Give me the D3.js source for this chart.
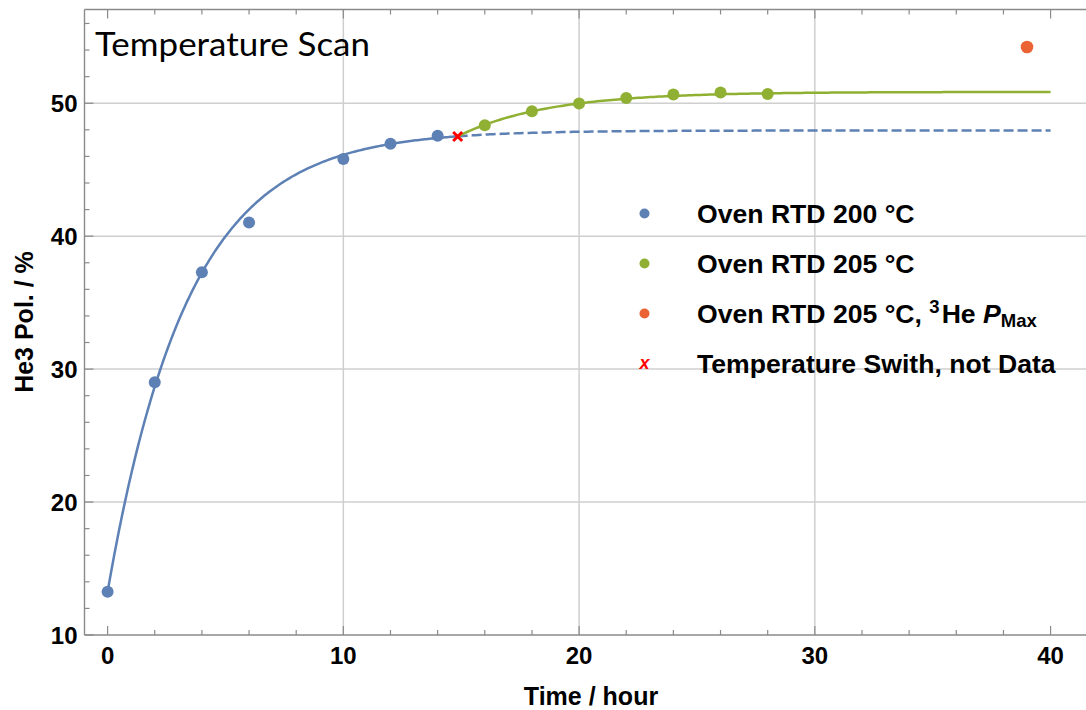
<!DOCTYPE html>
<html>
<head>
<meta charset="utf-8">
<script src="https://cdn.jsdelivr.net/npm/d3@7"></script>
<style>
  html, body { margin: 0; padding: 0; background: #fff; }
  svg { display: block; }
  .tick-label { font-family: "Liberation Sans", Arial, sans-serif; font-weight: bold; font-size: 24px; fill: #000; }
  .axis-title { font-family: "Liberation Sans", Arial, sans-serif; font-weight: bold; font-size: 25px; fill: #000; }
  .legend-text { font-family: "Liberation Sans", Arial, sans-serif; font-weight: bold; font-size: 26.6px; fill: #000; }
</style>
</head>
<body>
<svg id="chart" width="1086" height="710"></svg>
<script>
// Measured polarisation at 200 °C oven setpoint
const blueTime = [0, 2, 4, 6, 10, 12, 14];
const bluePol  = [13.26, 29.02, 37.29, 41.03, 45.81, 46.96, 47.56];

// Measured polarisation after switching to 205 °C
const greenTime = [16, 18, 20, 22, 24, 26, 28];
const greenPol  = [48.35, 49.40, 49.98, 50.40, 50.65, 50.80, 50.70];

// 3He maximum polarisation at 205 °C
const pmaxTime = [39];
const pmaxPol  = [54.23];

// Moment of the temperature switch (not a measurement)
const switchTime = [14.85];
const switchPol  = [47.5];

// Exponential build-up fits: P(t) = Pinf - (Pinf - P0) * exp(-(t - t0) / tau)
const fit200 = { t0: 0, P0: 13.26, Pinf: 47.95, tau: 3.4 };
const fit205 = { t0: 14.85, P0: 47.5, Pinf: 50.85, tau: 3.8 };

// Axis ticks
const xMajorTicks = [0, 10, 20, 30, 40];
const yMajorTicks = [10, 20, 30, 40, 50];
const xGridTicks = [10, 20, 30];
const yGridTicks = [20, 30, 40, 50];

const legendLabels = ["Oven RTD 200 °C", "Oven RTD 205 °C", "Oven RTD 205 °C, ", "Temperature Swith, not Data"];

const colBlue = "#5E81B5", colGreen = "#8FB032", colOrange = "#EB6235", colRed = "#FF0000";

const svg = d3.select("#chart");
const plotLeft = 84.5, plotTop = 9.5, plotBottom = 635, plotRight = 1088.3;

const x = d3.scaleLinear().domain([-0.98, 41.6]).range([plotLeft, plotRight]);
const y = d3.scaleLinear().domain([10, 57.05]).range([plotBottom, plotTop]);

// Grid lines
const grid = svg.append("g").attr("stroke", "#cfcfcf").attr("stroke-width", 1.5);
grid.selectAll("line.gx").data(xGridTicks).join("line")
  .attr("x1", d => x(d)).attr("x2", d => x(d)).attr("y1", plotTop).attr("y2", plotBottom);
grid.selectAll("line.gy").data(yGridTicks).join("line")
  .attr("x1", plotLeft).attr("x2", plotRight).attr("y1", d => y(d)).attr("y2", d => y(d));

// Frame
const frameColor = "#8a8a8a";
svg.append("line").attr("x1", plotLeft).attr("x2", plotRight).attr("y1", plotBottom).attr("y2", plotBottom)
  .attr("stroke", frameColor).attr("stroke-width", 1.4);
svg.append("line").attr("x1", plotLeft).attr("x2", plotRight).attr("y1", plotTop).attr("y2", plotTop)
  .attr("stroke", frameColor).attr("stroke-width", 1.4);
svg.append("line").attr("x1", plotLeft).attr("x2", plotLeft).attr("y1", plotTop).attr("y2", plotBottom)
  .attr("stroke", frameColor).attr("stroke-width", 1.4);

// Ticks (inward, on all drawn frame sides)
const xMinor = d3.range(0, 42, 2).filter(v => !xMajorTicks.includes(v));
const yMinor = d3.range(12, 57, 2).filter(v => !yMajorTicks.includes(v));
const tk = svg.append("g").attr("stroke", frameColor).attr("stroke-width", 1.2);
function xTicks(vals, len) {
  tk.append("g").selectAll("line").data(vals).join("line")
    .attr("x1", d => x(d)).attr("x2", d => x(d)).attr("y1", plotBottom).attr("y2", plotBottom - len);
  tk.append("g").selectAll("line").data(vals).join("line")
    .attr("x1", d => x(d)).attr("x2", d => x(d)).attr("y1", plotTop).attr("y2", plotTop + len);
}
function yTicks(vals, len) {
  tk.append("g").selectAll("line").data(vals).join("line")
    .attr("x1", plotLeft).attr("x2", plotLeft + len).attr("y1", d => y(d)).attr("y2", d => y(d));
}
xTicks(xMajorTicks, 9); xTicks(xMinor, 5);
yTicks(yMajorTicks, 9); yTicks(yMinor, 5);

// Tick labels
svg.append("g").selectAll("text").data(xMajorTicks).join("text")
  .attr("class", "tick-label").attr("x", d => x(d)).attr("y", 664)
  .attr("text-anchor", "middle").text(d => d);
svg.append("g").selectAll("text").data(yMajorTicks).join("text")
  .attr("class", "tick-label").attr("x", 77.5).attr("y", d => y(d) + 8.5)
  .attr("text-anchor", "end").text(d => d);

// Axis titles
svg.append("text").attr("class", "axis-title").attr("x", 591).attr("y", 705)
  .attr("text-anchor", "middle").text("Time / hour");
svg.append("text").attr("class", "axis-title")
  .attr("transform", "translate(33,322) rotate(-90)")
  .attr("text-anchor", "middle").text("He3 Pol. / %");

// Plot title
svg.append("text").attr("x", 95).attr("y", 56)
  .attr("font-family", "Lato, 'Noto Sans', sans-serif").attr("font-size", 33)
  .attr("textLength", 275).attr("lengthAdjust", "spacingAndGlyphs")
  .text("Temperature Scan");

// Fit curves
function fitValue(f, t) { return f.Pinf - (f.Pinf - f.P0) * Math.exp(-(t - f.t0) / f.tau); }
function sampleFit(f, t1, t2) {
  const n = 200;
  return d3.range(n + 1).map(i => { const t = t1 + (t2 - t1) * i / n; return [t, fitValue(f, t)]; });
}
const line = d3.line().x(d => x(d[0])).y(d => y(d[1]));
const tSwitch = switchTime[0];

svg.append("path").attr("d", line(sampleFit(fit200, 0, tSwitch)))
  .attr("fill", "none").attr("stroke", colBlue).attr("stroke-width", 2.5);
svg.append("path").attr("d", line(sampleFit(fit200, tSwitch, 40)))
  .attr("fill", "none").attr("stroke", colBlue).attr("stroke-width", 2.5)
  .attr("stroke-dasharray", "10,4");
svg.append("path").attr("d", line(sampleFit(fit205, tSwitch, 40)))
  .attr("fill", "none").attr("stroke", colGreen).attr("stroke-width", 2.5);

// Data points
svg.append("g").selectAll("circle").data(blueTime).join("circle")
  .attr("cx", d => x(d)).attr("cy", (d, i) => y(bluePol[i])).attr("r", 6).attr("fill", colBlue);
svg.append("g").selectAll("circle").data(greenTime).join("circle")
  .attr("cx", d => x(d)).attr("cy", (d, i) => y(greenPol[i])).attr("r", 6).attr("fill", colGreen);
svg.append("g").selectAll("circle").data(pmaxTime).join("circle")
  .attr("cx", d => x(d)).attr("cy", (d, i) => y(pmaxPol[i])).attr("r", 6.3).attr("fill", colOrange);

// Temperature switch marker
const xs = x(switchTime[0]), ys = y(switchPol[0]), s = 4.5;
svg.append("path")
  .attr("d", `M${xs - s},${ys - s}L${xs + s},${ys + s}M${xs - s},${ys + s}L${xs + s},${ys - s}`)
  .attr("stroke", colRed).attr("stroke-width", 3);

// Legend
const legX = 644.5, legTextX = 697, legY0 = 213.5, legDy = 50;
const legColors = [colBlue, colGreen, colOrange];
legColors.forEach((c, i) => {
  svg.append("circle").attr("cx", legX).attr("cy", legY0 + i * legDy).attr("r", 5).attr("fill", c);
});
svg.append("text").attr("x", legX).attr("y", legY0 + 3 * legDy + 5)
  .attr("text-anchor", "middle").attr("fill", colRed)
  .attr("font-family", "Liberation Sans, Arial, sans-serif").attr("font-weight", "bold")
  .attr("font-style", "italic").attr("font-size", 18).text("x");

legendLabels.forEach((lab, i) => {
  const t = svg.append("text").attr("class", "legend-text")
    .attr("x", legTextX).attr("y", legY0 + i * legDy + 9.5);
  t.append("tspan").text(lab);
  if (i === 2) {
    t.append("tspan").attr("font-size", 18.5).attr("dy", -10).text("3");
    t.append("tspan").attr("dx", 2).attr("dy", 10).text("He ");
    t.append("tspan").attr("font-style", "italic").text("P");
    t.append("tspan").attr("font-size", 18.5).attr("dy", 4).text("Max");
  }
});
</script>
</body>
</html>
